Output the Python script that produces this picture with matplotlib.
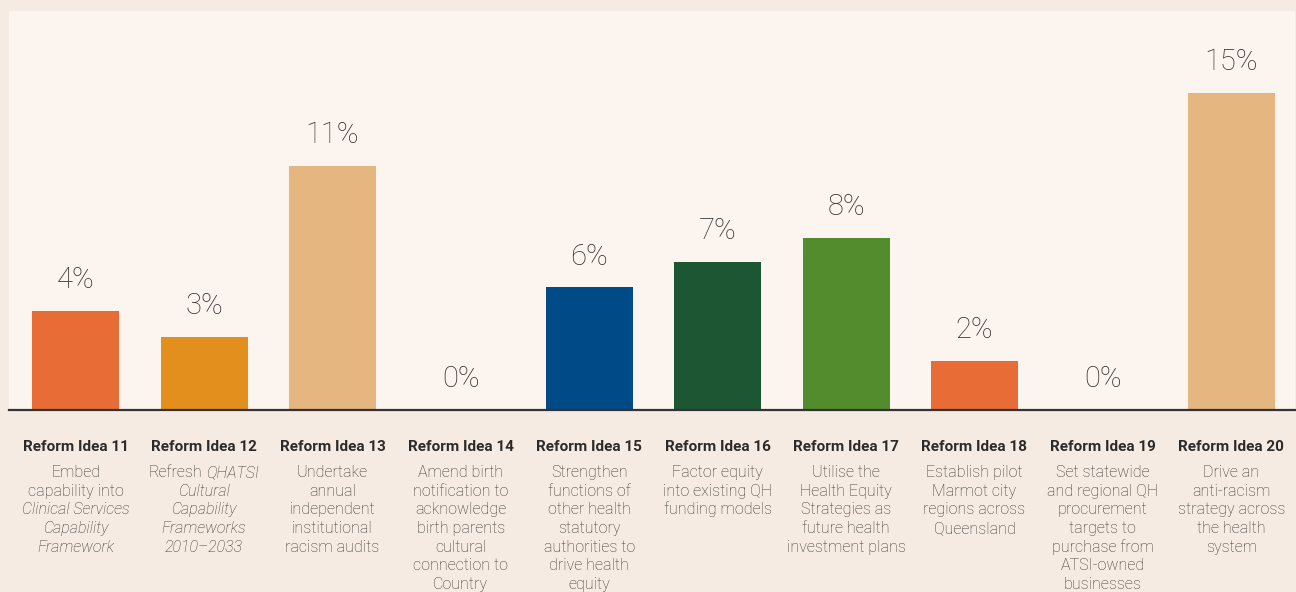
import matplotlib
matplotlib.use("Agg")
import matplotlib.pyplot as plt
from matplotlib.transforms import IdentityTransform

# datos del grafico
ideas = ['Reform Idea 11', 'Reform Idea 12', 'Reform Idea 13', 'Reform Idea 14', 'Reform Idea 15',
         'Reform Idea 16', 'Reform Idea 17', 'Reform Idea 18', 'Reform Idea 19', 'Reform Idea 20']
bar_heights = [4.7, 3.45, 11.55, 0, 5.8, 7.0, 8.15, 2.3, 0, 15.0]
pct_labels = ['4%', '3%', '11%', '0%', '6%', '7%', '8%', '2%', '0%', '15%']
colores = ['#e86c35', '#e38f1d', '#e6b680', '#e6b680', '#004a87',
           '#1d5633', '#528c2d', '#e86c35', '#e6b680', '#e6b680']
# *texto* = cursiva
descripciones = [
    ['Embed', 'capability into', '*Clinical Services*', '*Capability*', '*Framework*'],
    ['Refresh *QHATSI*', '*Cultural*', '*Capability*', '*Frameworks*', '*2010\u20132033*'],
    ['Undertake', 'annual', 'independent', 'institutional', 'racism audits'],
    ['Amend birth', 'notification to', 'acknowledge', 'birth parents', 'cultural', 'connection to', 'Country'],
    ['Strengthen', 'functions of', 'other health', 'statutory', 'authorities to', 'drive health', 'equity'],
    ['Factor equity', 'into existing QH', 'funding models'],
    ['Utilise the', 'Health Equity', 'Strategies as', 'future health', 'investment plans'],
    ['Establish pilot', 'Marmot city', 'regions across', 'Queensland'],
    ['Set statewide', 'and regional QH', 'procurement', 'targets to', 'purchase from', 'ATSI-owned', 'businesses'],
    ['Drive an', 'anti-racism', 'strategy across', 'the health', 'system'],
]

FUENTE = 'Roboto'
W, H = 1296, 592
fig = plt.figure(figsize=(W / 100, H / 100), dpi=100)
fig.patch.set_facecolor('#f6ebe2')

# panel claro detras de las barras
ax = fig.add_axes([9 / W, 182 / H, 1286 / W, 399 / H])
ax.set_facecolor('#fbf4ef')
x = list(range(len(ideas)))
ax.bar(x, bar_heights, width=0.678, color=colores, zorder=2)
ax.set_xlim(-0.519, 9.496)
ax.set_ylim(0, 399 / 21.13)
for s in ['top', 'right', 'left']:
    ax.spines[s].set_visible(False)
ax.spines['bottom'].set_color('#333333')
ax.spines['bottom'].set_linewidth(1.6)
ax.set_xticks([])
ax.set_yticks([])

for i, (h, lab) in enumerate(zip(bar_heights, pct_labels)):
    ax.annotate(lab, (i, h), xytext=(0, 16.5), textcoords='offset points',
                ha='center', va='baseline', fontsize=21, fontfamily=FUENTE,
                fontweight='light', color='#2e2e2e')

renderer = fig.canvas.get_renderer()


def ancho(s, **kw):
    t = fig.text(0, 0, s, transform=IdentityTransform(), **kw)
    w = t.get_window_extent(renderer).width
    t.remove()
    return w


def linea(xc, ybase, texto, **kw):
    partes = texto.split('*')
    segs = [(p, 'italic' if k % 2 else 'normal') for k, p in enumerate(partes) if p.strip()]
    esp = ancho('a a', **kw) - ancho('aa', **kw)
    anchos = [ancho(p.strip(), style=st, **kw) for p, st in segs]
    total = sum(anchos) + esp * (len(segs) - 1)
    x0 = xc - total / 2
    for (p, st), w in zip(segs, anchos):
        fig.text(x0, ybase, p.strip(), style=st, transform=IdentityTransform(),
                 ha='left', va='baseline', **kw)
        x0 += w + esp


for i, (nombre, desc) in enumerate(zip(ideas, descripciones)):
    xc = ax.transData.transform((i, 0))[0]
    fig.text(xc, H - 451, nombre, transform=IdentityTransform(), ha='center', va='baseline',
             fontsize=11, fontweight='bold', fontfamily=FUENTE, color='#2b2b2b')
    for j, l in enumerate(desc):
        linea(xc, H - 477 - j * 18.7, l, fontsize=11.5, fontweight='light',
              fontfamily=FUENTE, color='#363636')

fig.savefig('out.png', dpi=100, facecolor=fig.get_facecolor())
